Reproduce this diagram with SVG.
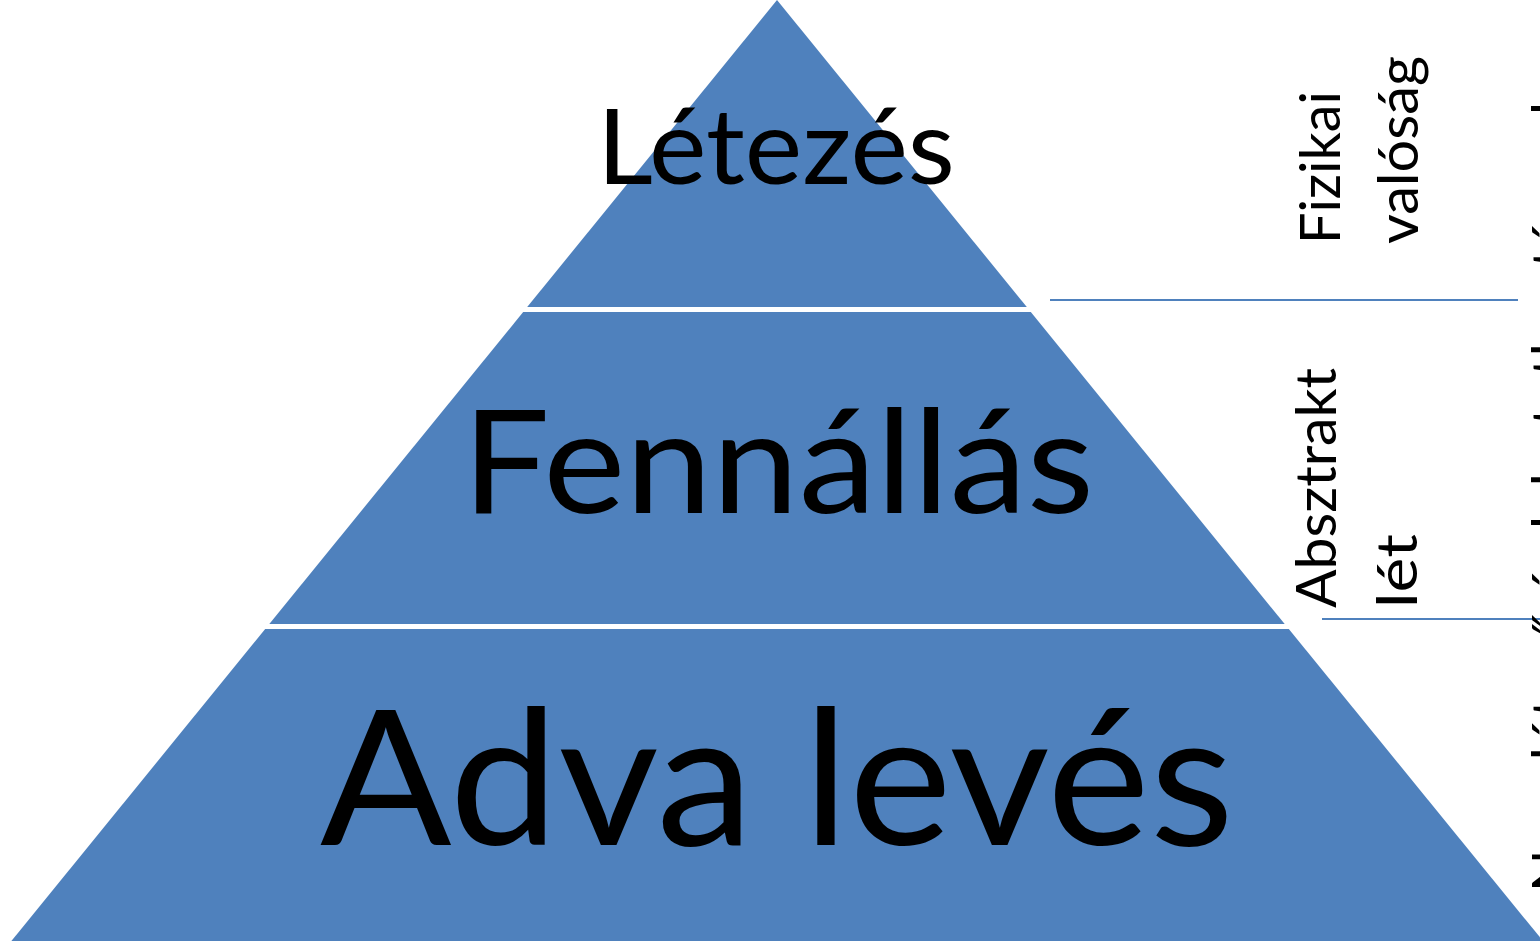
<svg xmlns="http://www.w3.org/2000/svg" width="1540" height="947" viewBox="0 0 1540 947">
<style>
.layer{fill:#4F81BD}
.main{font-family:Lato,"Carlito","Open Sans",sans-serif;fill:#000;text-anchor:middle}
.side{font-family:Lato,"Carlito","Open Sans",sans-serif;fill:#000;font-size:56px}
.sep{stroke:#4F81BD;stroke-width:2;fill:none}
</style>
<rect width="1540" height="947" fill="#fff"/>
<g id="layer-letezes">
<polygon class="layer" points="777,0 1026.8,307 527.2,307"/>
<text class="main" x="776" y="184" font-size="105" textLength="358" lengthAdjust="spacingAndGlyphs">Létezés</text>
</g>
<g id="layer-fennallas">
<polygon class="layer" points="523.2,312 1030.8,312 1284.7,624 269.3,624"/>
<text class="main" x="778" y="513" font-size="144" textLength="632" lengthAdjust="spacingAndGlyphs">Fennállás</text>
</g>
<g id="layer-adva-leves">
<polygon class="layer" points="265.2,629 1288.8,629 1543,941 11.4,941"/>
<text class="main" x="777" y="845" font-size="188" textLength="914" lengthAdjust="spacingAndGlyphs">Adva levés</text>
</g>
<g id="connectors">
<line class="sep" x1="1050" y1="300" x2="1518" y2="300"/>
<line class="sep" x1="1322" y1="619" x2="1540" y2="619"/>
</g>
<g id="label-fizikai">
<g transform="translate(1340,244) rotate(-90)">
<text class="side" x="0" y="0" textLength="153" lengthAdjust="spacingAndGlyphs">Fizikai</text>
<text class="side" x="0" y="78" textLength="188" lengthAdjust="spacingAndGlyphs">valóság</text>
</g>
</g>
<g id="label-absztrakt">
<g transform="translate(1336,608) rotate(-90)">
<text class="side" x="0" y="0" textLength="240" lengthAdjust="spacingAndGlyphs">Absztrakt</text>
<text class="side" x="0" y="81" textLength="74" lengthAdjust="spacingAndGlyphs">lét</text>
</g>
</g>
<g id="label-third">
<g transform="translate(1572,892) rotate(-90)">
<text class="side" x="0" y="0">Nem létező és lehetetlen tárgyak</text>
</g>
</g>
</svg>
